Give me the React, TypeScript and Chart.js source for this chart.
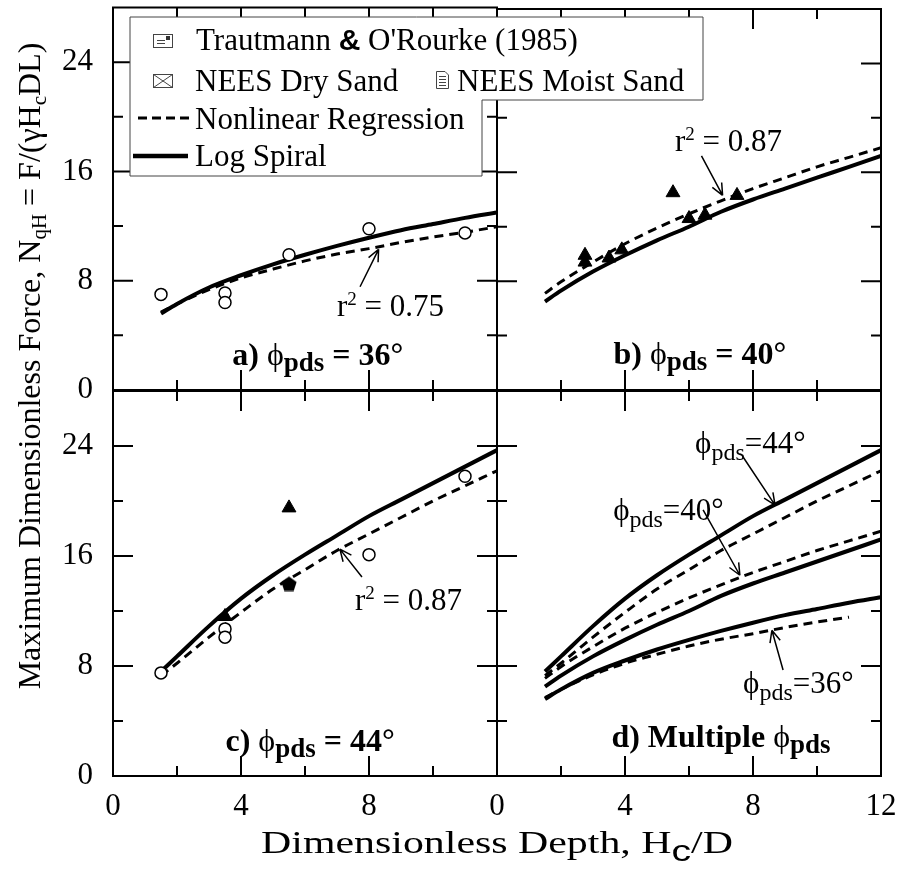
import React, { useEffect, useRef } from 'react';
import { Chart, registerables } from 'chart.js';

Chart.register(...registerables);

const W = 899;
const H = 869;
const SERIF = '"Liberation Serif", "Times New Roman", "DejaVu Serif", serif';
const SANS = '"Liberation Sans", Arial, sans-serif';

// ---------------- data ----------------
const depth = [1.5, 2, 3, 4, 5, 6, 7, 8, 9, 10, 11, 12];
const logSpiral36 = [5.6, 6.3, 7.5, 8.4, 9.2, 9.9, 10.55, 11.15, 11.7, 12.15, 12.6, 13.0];
const regression36 = [5.7, 6.3, 7.35, 8.2, 8.85, 9.45, 9.95, 10.35, 10.8, 11.2, 11.55, 11.95];
const logSpiral40 = [6.5, 7.3, 8.7, 9.9, 11.0, 12.0, 13.1, 14.0, 14.8, 15.6, 16.4, 17.2];
const regression40 = [7.1, 7.95, 9.4, 10.75, 11.9, 12.95, 13.9, 14.8, 15.6, 16.4, 17.1, 17.8];
const logSpiral44 = [7.6, 8.7, 10.9, 12.9, 14.6, 16.1, 17.5, 18.9, 20.1, 21.3, 22.5, 23.7];
const regression44 = [7.3, 8.2, 10.1, 11.9, 13.6, 15.0, 16.4, 17.6, 18.8, 20.0, 21.1, 22.2];

const trautmann36 = [[1.5, 7.0], [3.5, 7.1], [3.5, 6.4], [5.5, 9.9], [8, 11.8], [11, 11.5]];
const neesDry40 = [[2.75, 9.4], [2.75, 9.9], [3.5, 9.7], [3.9, 10.3], [5.5, 14.5], [6, 12.6], [6.5, 12.85], [7.5, 14.3]];
const trautmann44 = [[1.5, 7.5], [3.5, 10.7], [3.5, 10.1], [8, 16.1], [11, 21.8]];
const neesDry44 = [[3.5, 11.6], [5.5, 19.5]];
const neesMoist44 = [[5.5, 14.0]];

const xTickLabelsC = [0, 4, 8];
const xTickLabelsD = [0, 4, 8, 12];
const yTickLabels = [0, 8, 16, 24];

// ---------------- helpers ----------------
type Seg = { t: string; size?: number; bold?: boolean; dy?: number; family?: string };

function fontOf(s: Seg, base: number) {
  return `${s.bold ? 'bold ' : ''}${s.size ?? base}px ${s.family ?? SERIF}`;
}
function drawRich(ctx: CanvasRenderingContext2D, segs: Seg[], x: number, y: number, base: number, align: 'left' | 'center') {
  let w = 0;
  for (const s of segs) {
    ctx.font = fontOf(s, base);
    w += ctx.measureText(s.t).width;
  }
  let cx = align === 'center' ? x - w / 2 : x;
  ctx.textAlign = 'left';
  ctx.textBaseline = 'alphabetic';
  ctx.fillStyle = '#000';
  for (const s of segs) {
    ctx.font = fontOf(s, base);
    ctx.fillText(s.t, cx, y + (s.dy ?? 0));
    cx += ctx.measureText(s.t).width;
  }
}
function arrow(ctx: CanvasRenderingContext2D, x1: number, y1: number, x2: number, y2: number) {
  ctx.save();
  ctx.strokeStyle = '#000';
  ctx.lineWidth = 1.5;
  ctx.beginPath();
  ctx.moveTo(x1, y1);
  ctx.lineTo(x2, y2);
  const a = Math.atan2(y2 - y1, x2 - x1);
  const L = 13;
  for (const d of [-0.42, 0.42]) {
    ctx.moveTo(x2, y2);
    ctx.lineTo(x2 - L * Math.cos(a + d), y2 - L * Math.sin(a + d));
  }
  ctx.stroke();
  ctx.restore();
}

const pts = (arr: number[][]) => arr.map(([x, y]) => ({ x, y }));
const curvePts = (xs: number[], ys: number[]) => xs.map((x, i) => ({ x, y: ys[i] }));

function curve(xs: number[], ys: number[], dashed: boolean) {
  return {
    data: curvePts(xs, ys),
    showLine: true,
    borderColor: '#000',
    backgroundColor: '#000',
    borderWidth: dashed ? 3 : 4,
    borderDash: dashed ? [9, 6] : [],
    pointRadius: 0,
    fill: false,
    tension: 0.4,
    cubicInterpolationMode: 'monotone',
  };
}
function circles(arr: number[][]) {
  return {
    data: pts(arr),
    showLine: false,
    pointStyle: 'circle',
    pointRadius: 6,
    pointBorderWidth: 1.5,
    pointBorderColor: '#000',
    pointBackgroundColor: '#fff',
  };
}
function triangles(arr: number[][]) {
  return {
    data: pts(arr),
    showLine: false,
    pointStyle: 'triangle',
    pointRadius: 8,
    pointBorderWidth: 1,
    pointBorderColor: '#000',
    pointBackgroundColor: '#000',
  };
}
function makePentagon(size: number) {
  const c = document.createElement('canvas');
  c.width = size;
  c.height = size;
  const g = c.getContext('2d')!;
  g.fillStyle = '#000';
  g.beginPath();
  for (let i = 0; i < 5; i++) {
    const a = -Math.PI / 2 + (i * 2 * Math.PI) / 5;
    g.lineTo(size / 2 + (size / 2) * Math.cos(a), size / 2 + 1 + (size / 2) * Math.sin(a));
  }
  g.closePath();
  g.fill();
  return c;
}

type Panel = {
  area: [number, number, number, number];
  datasets: any[];
  xLabels: number[];
  yLabels: number[];
  annotate: (ctx: CanvasRenderingContext2D, X: (v: number) => number, Y: (v: number) => number) => void;
  overlay?: (ctx: CanvasRenderingContext2D) => void;
};

function panelLabel(letter: string, value: string): Seg[] {
  return [
    { t: letter + ') ', bold: true },
    { t: 'ϕ' },
    { t: 'pds', bold: true, size: 27, dy: 6 },
    { t: ' = ' + value + '°', bold: true },
  ];
}
function rLabel(v: string): Seg[] {
  return [{ t: 'r' }, { t: '2', size: 19, dy: -11 }, { t: ' = ' + v }];
}
function phiLabel(v: string): Seg[] {
  return [{ t: 'ϕ' }, { t: 'pds', size: 24, dy: 7 }, { t: '=' + v + '°' }];
}

function drawLegendAndTitles(ctx: CanvasRenderingContext2D) {
  ctx.save();
  // L-shaped legend box
  ctx.beginPath();
  ctx.moveTo(130, 17);
  ctx.lineTo(703, 17);
  ctx.lineTo(703, 100);
  ctx.lineTo(482, 100);
  ctx.lineTo(482, 176);
  ctx.lineTo(130, 176);
  ctx.closePath();
  ctx.fillStyle = '#fff';
  ctx.fill();
  ctx.strokeStyle = '#444';
  ctx.lineWidth = 1;
  ctx.stroke();

  // icon 1 (Trautmann)
  ctx.strokeStyle = '#444';
  ctx.lineWidth = 1;
  ctx.strokeRect(153.5, 34.5, 19, 13);
  ctx.beginPath();
  ctx.moveTo(157, 40.5); ctx.lineTo(165, 40.5);
  ctx.moveTo(157, 43.5); ctx.lineTo(165, 43.5);
  ctx.stroke();
  ctx.fillStyle = '#333';
  ctx.fillRect(166, 36, 4, 4);
  // icon 2 (dry sand)
  ctx.strokeRect(153.5, 74.5, 19, 13);
  ctx.beginPath();
  ctx.moveTo(153.5, 74.5); ctx.lineTo(172.5, 87.5);
  ctx.moveTo(172.5, 74.5); ctx.lineTo(153.5, 87.5);
  ctx.stroke();
  // icon 3 (moist sand)
  ctx.beginPath();
  ctx.moveTo(436.5, 71.5); ctx.lineTo(445, 71.5); ctx.lineTo(448.5, 75); ctx.lineTo(448.5, 88.5); ctx.lineTo(436.5, 88.5); ctx.closePath();
  ctx.stroke();
  ctx.beginPath();
  for (const yy of [76.5, 79.5, 82.5, 85.5]) { ctx.moveTo(439, yy); ctx.lineTo(446, yy); }
  ctx.stroke();

  // legend line samples
  ctx.strokeStyle = '#000';
  ctx.lineWidth = 3;
  ctx.setLineDash([9, 5]);
  ctx.beginPath(); ctx.moveTo(138, 118); ctx.lineTo(190, 118); ctx.stroke();
  ctx.setLineDash([]);
  ctx.lineWidth = 4.5;
  ctx.beginPath(); ctx.moveTo(133, 156); ctx.lineTo(188, 156); ctx.stroke();

  drawRich(ctx, [{ t: 'Trautmann ' }, { t: '&', bold: true, family: SANS, size: 30 }, { t: " O'Rourke (1985)" }], 196, 50, 31, 'left');
  drawRich(ctx, [{ t: 'NEES Dry Sand' }], 195, 91, 31, 'left');
  drawRich(ctx, [{ t: 'NEES Moist Sand' }], 457, 91, 31, 'left');
  drawRich(ctx, [{ t: 'Nonlinear Regression' }], 195, 129, 31, 'left');
  drawRich(ctx, [{ t: 'Log Spiral' }], 195, 166, 31, 'left');

  // x axis title (stretched as in the original)
  ctx.save();
  ctx.translate(497, 853);
  ctx.scale(1.35, 1);
  drawRich(ctx, [{ t: 'Dimensionless Depth, H' }, { t: 'c', size: 29, dy: 8, family: SANS }, { t: '/D' }], 0, 0, 31, 'center');
  ctx.restore();
  // y axis title
  ctx.save();
  ctx.translate(30, 366);
  ctx.rotate(-Math.PI / 2);
  drawRich(ctx, [
    { t: 'Maximum Dimensionless Force, N' },
    { t: 'qH', size: 21, dy: 6 },
    { t: ' = F/(γH' },
    { t: 'c', size: 21, dy: 6 },
    { t: 'DL)' },
  ], 0, 10, 32, 'center');
  ctx.restore();
  ctx.restore();
}

function buildConfig(p: Panel, pentagon: HTMLCanvasElement): any {
  const [l, t, r, b] = p.area;
  const datasets = p.datasets.map((d) => (d.pointStyle === 'pentagon' ? { ...d, pointStyle: pentagon } : d));
  const fixPad = (s: any) => {
    s.paddingTop = 0; s.paddingBottom = 0; s.paddingLeft = 0; s.paddingRight = 0;
  };
  const framePlugin = {
    id: 'frameTicks',
    afterDatasetsDraw(chart: any) {
      const { ctx, chartArea: ca, scales } = chart;
      const xs = scales.x, ys = scales.y;
      ctx.save();
      ctx.strokeStyle = '#000';
      ctx.lineWidth = 2;
      ctx.strokeRect(ca.left, ca.top, ca.right - ca.left, ca.bottom - ca.top);
      ctx.beginPath();
      for (const tk of xs.ticks) {
        const v = tk.value;
        if (v <= xs.min || v >= xs.max) continue;
        const px = xs.getPixelForValue(v);
        const len = v % 4 === 0 ? 20 : 10;
        ctx.moveTo(px, ca.bottom); ctx.lineTo(px, ca.bottom - len);
        ctx.moveTo(px, ca.top); ctx.lineTo(px, ca.top + len);
      }
      for (const tk of ys.ticks) {
        const v = tk.value;
        if (v <= ys.min || v >= ys.max) continue;
        const py = ys.getPixelForValue(v);
        const len = v % 8 === 0 ? 20 : 10;
        ctx.moveTo(ca.left, py); ctx.lineTo(ca.left + len, py);
        ctx.moveTo(ca.right, py); ctx.lineTo(ca.right - len, py);
      }
      ctx.stroke();
      p.annotate(ctx, (v) => xs.getPixelForValue(v), (v) => ys.getPixelForValue(v));
      ctx.restore();
    },
    afterDraw(chart: any) {
      if (p.overlay) p.overlay(chart.ctx);
    },
  };
  return {
    type: 'scatter',
    data: { datasets },
    options: {
      responsive: false,
      animation: false,
      devicePixelRatio: 1,
      events: [],
      layout: { padding: { left: 0, top: t, right: W - r, bottom: 0 } },
      plugins: { legend: { display: false }, tooltip: { enabled: false } },
      scales: {
        x: {
          type: 'linear',
          position: 'bottom',
          min: 0,
          max: 12,
          grid: { display: false, drawTicks: false },
          border: { display: false },
          ticks: {
            display: p.xLabels.length > 0,
            stepSize: 2,
            autoSkip: false,
            maxRotation: 0,
            minRotation: 0,
            padding: 12,
            color: '#000',
            font: { family: SERIF, size: 31 },
            callback: (v: number) => (p.xLabels.includes(v) ? String(v) : ''),
          },
          afterFit: (s: any) => { s.height = H - b; fixPad(s); },
        },
        y: {
          type: 'linear',
          position: 'left',
          min: 0,
          max: 28,
          grid: { display: false, drawTicks: false },
          border: { display: false },
          ticks: {
            display: p.yLabels.length > 0,
            stepSize: 4,
            autoSkip: false,
            padding: 20,
            color: '#000',
            font: { family: SERIF, size: 31 },
            callback: (v: number) => (p.yLabels.includes(v) ? String(v) : ''),
          },
          afterFit: (s: any) => { s.width = l; fixPad(s); },
        },
      },
    },
    plugins: [framePlugin],
  };
}

const d11 = depth.slice(0, 11);

const PANELS: Panel[] = [
  // b
  {
    area: [497, 5, 881, 390],
    xLabels: [],
    yLabels: [],
    datasets: [triangles(neesDry40), curve(depth, regression40, true), curve(depth, logSpiral40, false)],
    annotate: (ctx, X, Y) => {
      drawRich(ctx, rLabel('0.87'), X(5.56), Y(17.6), 31, 'left');
      arrow(ctx, X(6.39), Y(17.2), X(7.05), Y(14.3));
      drawRich(ctx, panelLabel('b', '40'), X(6.34), Y(1.9), 32, 'center');
    },
  },
  // c
  {
    area: [113, 391, 497, 776],
    xLabels: xTickLabelsC,
    yLabels: yTickLabels,
    datasets: [
      circles(trautmann44),
      triangles(neesDry44),
      { data: pts(neesMoist44), showLine: false, pointStyle: 'pentagon', pointRadius: 8 },
      curve(depth, regression44, true),
      curve(depth, logSpiral44, false),
    ],
    annotate: (ctx, X, Y) => {
      drawRich(ctx, rLabel('0.87'), X(7.56), Y(12.07), 31, 'left');
      arrow(ctx, X(7.78), Y(14.47), X(7.09), Y(16.5));
      drawRich(ctx, panelLabel('c', '44'), X(6.16), Y(1.8), 32, 'center');
    },
  },
  // d
  {
    area: [497, 391, 881, 776],
    xLabels: xTickLabelsD,
    yLabels: [],
    datasets: [
      curve(depth, logSpiral44, false),
      curve(depth, regression44, true),
      curve(depth, logSpiral40, false),
      curve(depth, regression40, true),
      curve(depth, logSpiral36, false),
      curve(d11, regression36.slice(0, 11), true),
    ],
    annotate: (ctx, X, Y) => {
      drawRich(ctx, phiLabel('44'), X(6.19), Y(23.5), 31, 'left');
      arrow(ctx, X(7.69), Y(23.2), X(8.69), Y(19.7));
      drawRich(ctx, phiLabel('40'), X(3.63), Y(18.6), 31, 'left');
      arrow(ctx, X(6.44), Y(19.35), X(7.59), Y(14.6));
      drawRich(ctx, phiLabel('36'), X(7.69), Y(6.04), 31, 'left');
      arrow(ctx, X(8.94), Y(7.71), X(8.59), Y(10.6));
      drawRich(ctx, [{ t: 'd) Multiple ', bold: true }, { t: 'ϕ' }, { t: 'pds', bold: true, size: 27, dy: 6 }], X(7.0), Y(2.1), 32, 'center');
    },
  },
  // a (top-most canvas: carries legend and axis titles)
  {
    area: [113, 5, 497, 390],
    xLabels: [],
    yLabels: yTickLabels,
    datasets: [circles(trautmann36), curve(depth, regression36, true), curve(depth, logSpiral36, false)],
    annotate: (ctx, X, Y) => {
      drawRich(ctx, rLabel('0.75'), X(7.0), Y(5.45), 31, 'left');
      arrow(ctx, X(7.72), Y(7.56), X(8.3), Y(10.3));
      drawRich(ctx, panelLabel('a', '36'), X(6.4), Y(1.8), 32, 'center');
    },
    overlay: drawLegendAndTitles,
  },
];

export default function App() {
  const r0 = useRef<HTMLCanvasElement>(null);
  const r1 = useRef<HTMLCanvasElement>(null);
  const r2 = useRef<HTMLCanvasElement>(null);
  const r3 = useRef<HTMLCanvasElement>(null);
  const refs = [r0, r1, r2, r3];

  useEffect(() => {
    const pentagon = makePentagon(16);
    const charts = PANELS.map((p, i) => new Chart(refs[i].current!, buildConfig(p, pentagon)));
    return () => charts.forEach((c) => c.destroy());
  }, []);

  return (
    <div style={{ position: 'absolute', left: 0, top: 0, width: W, height: H, background: '#fff', overflow: 'hidden' }}>
      {refs.map((r, i) => (
        <canvas
          key={i}
          ref={r}
          width={W}
          height={H}
          style={{ position: 'absolute', left: 0, top: 0, width: W, height: H }}
        />
      ))}
    </div>
  );
}
